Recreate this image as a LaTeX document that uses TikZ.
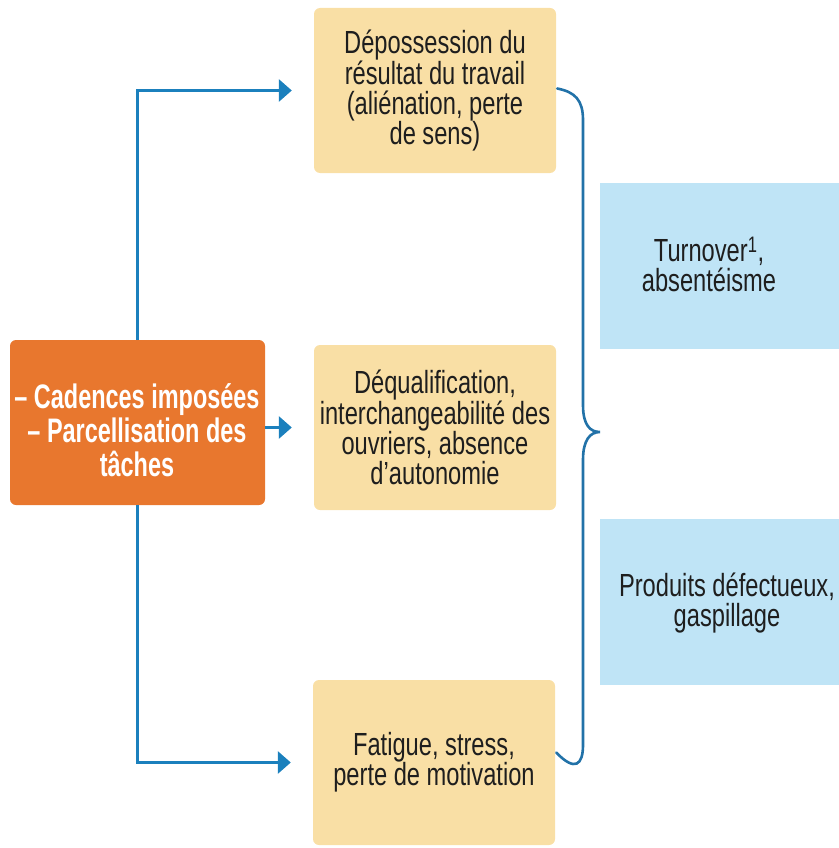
\documentclass[tikz,border=0pt]{standalone}
\usepackage{fontspec}
\usetikzlibrary{arrows.meta}
\newfontfamily\boxfont[FakeStretch=0.74]{Liberation Sans}
\newfontfamily\orangefont[FakeStretch=0.69]{Liberation Sans}
\definecolor{orangebox}{HTML}{E8772E}
\definecolor{yellowbox}{HTML}{F9DFA5}
\definecolor{bluebox}{HTML}{BFE4F6}
\definecolor{arrowblue}{HTML}{1B80BD}
\definecolor{braceblue}{HTML}{2272A8}
\definecolor{txtdark}{HTML}{1E1E1E}
\tikzset{
  ybox/.style={fill=yellowbox, rounded corners=6pt, minimum width=242pt, minimum height=165pt,
    inner sep=0pt, align=center, text=txtdark, font=\boxfont\fontsize{32}{30}\selectfont},
  obox/.style={fill=orangebox, rounded corners=6pt, minimum width=255pt, minimum height=165pt,
    inner sep=0pt, align=center, text=white, font=\orangefont\bfseries\fontsize{34}{34}\selectfont},
  bbox/.style={fill=bluebox, minimum width=250pt, minimum height=166pt, inner sep=0pt},
  btxt/.style={align=center, text=txtdark, inner sep=0pt, font=\boxfont\fontsize{32}{30}\selectfont},
  conn/.style={draw=arrowblue, line width=3pt, -{Triangle[length=13pt,width=22pt]}},
  bracestyle/.style={draw=braceblue, line width=2.6pt, line cap=round}
}
\begin{document}
\begin{tikzpicture}[x=1pt,y=-1pt]
\useasboundingbox (0,0) rectangle (838,848);
% boxes
\node[obox] (orange) at (137.5,422.5) {}; 
\node[align=center, text=white, inner sep=0pt, font=\orangefont\bfseries\fontsize{34}{34}\selectfont] (otxt) at (137,430) {– Cadences imposées\\– Parcellisation des\\tâches};
\node[ybox] (top) at (435,90.5) {Dépossession du\\résultat du travail\\(aliénation, perte\\de sens)};
\node[ybox] (mid) at (435,427.5) {Déqualification,\\interchangeabilité des\\ouvriers, absence\\d’autonomie};
\node[ybox] (bot) at (434,762.5) {Fatigue, stress,\\perte de motivation};
\node[bbox] (turn) at (725,266) {};
\node[bbox] (prod) at (725,602) {};
\node[btxt] (turntxt) at (709,264) {Turnover\textsuperscript{1},\\absentéisme};
\node[btxt] (prodtxt) at (727,603) {Produits défectueux,\\gaspillage};
% connectors
\draw[conn] (orange.north) |- ([xshift=-22pt]top.west);
\draw[conn] (orange.east |- mid.west) -- ([xshift=-22pt]mid.west);
\draw[conn] (orange.south) |- ([xshift=-22pt]bot.west);
% brace
\coordinate (bs) at ([shift={(1pt,2pt)}]top.east);
\coordinate (be) at ([shift={(1pt,10pt)}]bot.east);
\coordinate (tip) at (600,432);
\draw[bracestyle] (bs) .. controls (575,92) and (583,100) .. (583,120)
  -- (583,405) .. controls (583,425) and (590,432) .. (tip)
  .. controls (590,432) and (583,440) .. (583,460)
  -- (583,745) .. controls (583,765) and (575,772) .. (be);
\end{tikzpicture}
\end{document}
